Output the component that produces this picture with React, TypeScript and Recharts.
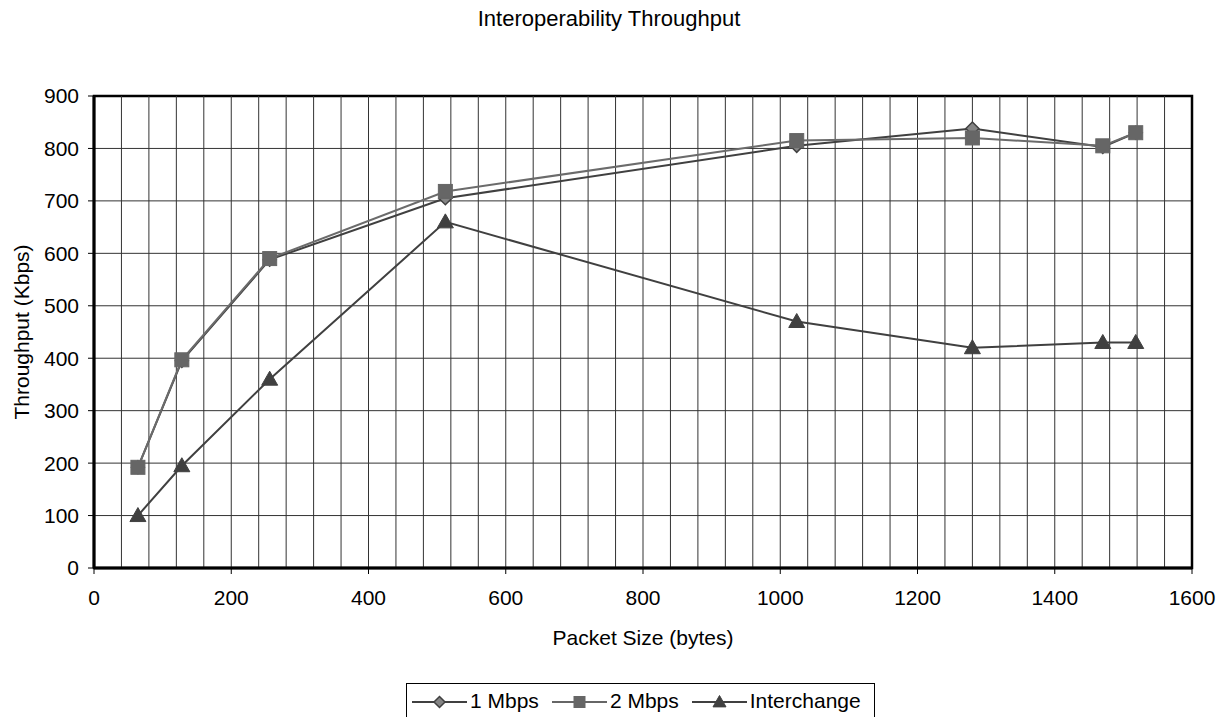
import React from "react";
import { LineChart, Line, XAxis, YAxis, CartesianGrid, ReferenceLine, ReferenceArea, Label } from "recharts";

const packetSizes = [64, 128, 256, 512, 1024, 1280, 1470, 1518];
const mbps1 = [192, 395, 588, 705, 805, 838, 803, 830];
const mbps2 = [192, 397, 590, 718, 815, 820, 805, 830];
const interchange = [100, 195, 360, 660, 470, 420, 430, 430];

const xTicks = [0, 200, 400, 600, 800, 1000, 1200, 1400, 1600];
const yTicks = [0, 100, 200, 300, 400, 500, 600, 700, 800, 900];
const xGridStep = 40;
const xGridValues = Array.from({ length: 1600 / xGridStep - 1 }, (_, i) => (i + 1) * xGridStep);

const data = packetSizes.map((x, i) => ({
  x,
  m1: mbps1[i],
  m2: mbps2[i],
  ic: interchange[i],
}));

const FONT = "Arial, 'Liberation Sans', sans-serif";
const FS = 21;

const Diamond = (props: any) => {
  const { cx, cy, size = 6.5 } = props;
  if (cx == null || cy == null) return null;
  const r = size;
  return (
    <path
      d={`M${cx},${cy - r}L${cx + r},${cy}L${cx},${cy + r}L${cx - r},${cy}Z`}
      fill="#858585"
      stroke="#404040"
      strokeWidth={1.5}
    />
  );
};

const Square = (props: any) => {
  const { cx, cy, size = 7 } = props;
  if (cx == null || cy == null) return null;
  const r = size;
  return <rect x={cx - r} y={cy - r} width={2 * r} height={2 * r} fill="#666666" stroke="#666666" />;
};

const Triangle = (props: any) => {
  const { cx, cy, size = 8 } = props;
  if (cx == null || cy == null) return null;
  const r = size;
  return (
    <path
      d={`M${cx},${cy - r}L${cx + r},${cy + r * 0.75}L${cx - r},${cy + r * 0.75}Z`}
      fill="#404040"
      stroke="#404040"
    />
  );
};

const legendItems = [
  { name: "1 Mbps", color: "#404040", Marker: Diamond, size: 5.5 },
  { name: "2 Mbps", color: "#666666", Marker: Square, size: 5.5 },
  { name: "Interchange", color: "#404040", Marker: Triangle, size: 6.5 },
];

export default function App() {
  return (
    <div style={{ position: "absolute", left: 0, top: 0, width: 1225, height: 717, background: "#fff", fontFamily: FONT, overflow: "hidden" }}>
      <div
        style={{
          position: "absolute",
          left: 0,
          width: 1218,
          top: 6,
          textAlign: "center",
          fontSize: 22,
          color: "#000",
          whiteSpace: "nowrap",
        }}
      >
        Interoperability Throughput
      </div>
      <LineChart
        width={1225}
        height={717}
        data={data}
        margin={{ top: 96, right: 33, left: 14, bottom: 69 }}
        style={{ fontFamily: FONT }}
      >
        <CartesianGrid vertical={false} stroke="#333333" strokeWidth={1} />
        {xGridValues.map((v) => (
          <ReferenceLine key={v} x={v} stroke="#333333" strokeWidth={1} />
        ))}
        <XAxis
          dataKey="x"
          type="number"
          domain={[0, 1600]}
          ticks={xTicks}
          tickSize={6}
          tickMargin={16}
          height={80}
          stroke="#000"
          tick={{ fill: "#000", fontSize: FS }}
          tickLine={{ stroke: "#000" }}
          axisLine={{ stroke: "#000", strokeWidth: 3 }}
        >
          <Label value="Packet Size (bytes)" position="center" dy={30} style={{ fill: "#000", fontSize: FS }} />
        </XAxis>
        <YAxis
          type="number"
          domain={[0, 900]}
          ticks={yTicks}
          width={80}
          tickSize={6}
          tickMargin={9}
          stroke="#000"
          tick={{ fill: "#000", fontSize: FS }}
          tickLine={{ stroke: "#000" }}
          axisLine={{ stroke: "#000", strokeWidth: 3 }}
        >
          <Label value="Throughput (Kbps)" angle={-90} position="center" dx={-32} style={{ fill: "#000", fontSize: FS, textAnchor: "middle" }} />
        </YAxis>
        <ReferenceArea x1={0} x2={1600} y1={0} y2={900} fill="none" fillOpacity={0} stroke="#000" strokeWidth={2.5} />
        <Line
          dataKey="m1"
          name="1 Mbps"
          stroke="#404040"
          strokeWidth={2}
          dot={<Diamond />}
          activeDot={false}
          isAnimationActive={false}
        />
        <Line
          dataKey="m2"
          name="2 Mbps"
          stroke="#6b6b6b"
          strokeWidth={2}
          dot={<Square />}
          activeDot={false}
          isAnimationActive={false}
        />
        <Line
          dataKey="ic"
          name="Interchange"
          stroke="#404040"
          strokeWidth={2}
          dot={<Triangle />}
          activeDot={false}
          isAnimationActive={false}
        />
      </LineChart>
      <div
        style={{
          position: "absolute",
          left: 406,
          top: 683,
          width: 469,
          height: 40,
          border: "1px solid #000",
          boxSizing: "border-box",
          fontSize: FS,
          color: "#000",
        }}
      >
        <div style={{ position: "absolute", left: 5, top: 6, display: "flex", alignItems: "flex-start", whiteSpace: "nowrap" }}>
          {legendItems.map((it, i) => (
            <div key={it.name} style={{ display: "flex", alignItems: "flex-start", marginRight: i < 2 ? 13 : 0 }}>
              <svg width={55} height={21} style={{ display: "block" }}>
                <line x1={0} y1={12} x2={55} y2={12} stroke={it.color} strokeWidth={2} />
                <it.Marker cx={27.5} cy={12} size={it.size} />
              </svg>
              <span style={{ marginLeft: 3, lineHeight: "21px", display: "block" }}>{it.name}</span>
            </div>
          ))}
        </div>
      </div>
    </div>
  );
}
